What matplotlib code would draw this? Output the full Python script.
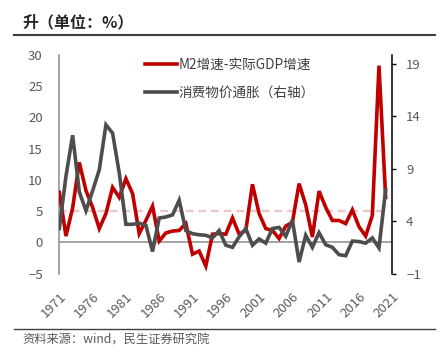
import matplotlib
matplotlib.use("Agg")
import matplotlib.pyplot as plt
from matplotlib.transforms import ScaledTranslation

plt.rcParams['font.family'] = ['Noto Sans CJK SC', 'DejaVu Sans']

# years shown on the category axis
tick_years = [1971, 1976, 1981, 1986, 1991, 1996, 2001, 2006, 2011, 2016, 2021]

# M2 growth minus real GDP growth (left axis, %)
m2_gap = [8.0, 1.0, 5.5, 12.8, 8.3, 5.6, 2.2, 4.6, 8.8, 7.2,
          10.2, 7.8, 1.4, 3.5, 5.8, 0.2, 1.5, 1.8, 1.9, 3.0,
          -1.9, -1.4, -3.8, 1.3, 1.4, 1.3, 3.9, 1.3, 1.9, 9.3,
          4.6, 2.2, 1.9, 0.6, 2.6, 3.2, 9.4, 6.0, 0.85, 8.2,
          5.6, 3.5, 3.5, 3.0, 5.2, 2.5, 1.0, 4.3, 28.3, 7.2]

# CPI inflation (right axis, %)
cpi = [3.3, 8.3, 12.2, 6.8, 5.0, 6.9, 8.9, 13.2, 12.4, 8.6,
       3.7, 3.7, 3.8, 3.6, 1.1, 4.3, 4.4, 4.6, 6.0, 3.1,
       2.8, 2.7, 2.65, 2.4, 3.1, 1.7, 1.5, 2.5, 3.3, 1.7,
       2.3, 1.9, 3.3, 3.4, 2.55, 4.1, 0.1, 2.65, 1.5, 2.9,
       1.75, 1.5, 0.8, 0.7, 2.1, 2.05, 1.9, 2.4, 1.45, 7.0]

ref_level = 5

idx = list(range(len(m2_gap)))
tick_pos = [y - tick_years[0] for y in tick_years]

fig = plt.figure(figsize=(4.4, 3.55), dpi=100)
ax = fig.add_axes([0.1348, 0.2295, 0.7568, 0.6155])
ax2 = ax.twinx()

red = '#C00000'
grey = '#4D4D4D'
txt = '#595959'

ax.hlines(ref_level, 0, len(idx) - 1, colors='#EEC4C4', linestyles=(0, (3.5, 2.2)), lw=1.6, zorder=1)
ax.axhline(0, color='#8C8C8C', lw=1.1, zorder=1)
l1, = ax.plot(idx, m2_gap, color=red, lw=2.6, zorder=3, solid_joinstyle='miter')
l2, = ax2.plot(idx, cpi, color=grey, lw=2.6, zorder=3, solid_joinstyle='miter')

ax.set_xlim(0, 50)
ax.set_ylim(-5, 30)
ax.set_yticks([-5, 0, 5, 10, 15, 20, 25, 30])
ax2.set_ylim(-1, 19.86)
ax2.set_yticks([-1, 4, 9, 14, 19])

ax.set_xticks(tick_pos)
ax.set_xticklabels([str(y) for y in tick_years], rotation=45, ha='right', va='top',
                   rotation_mode='anchor', fontsize=9.5, color=txt)
shift = ScaledTranslation(1 / 100, 0, fig.dpi_scale_trans)
for lab in ax.get_xticklabels():
    lab.set_transform(lab.get_transform() + shift)
ax.tick_params(axis='x', length=0, pad=12)
ax.tick_params(axis='y', length=0, pad=12, labelsize=9.5, labelcolor=txt)
ax2.tick_params(axis='y', length=3, width=1, color='black', pad=7, labelsize=9.5, labelcolor=txt)

for s in ['top', 'bottom', 'right']:
    ax.spines[s].set_visible(False)
for s in ['top', 'bottom', 'left']:
    ax2.spines[s].set_visible(False)
ax.spines['left'].set_color('#8C8C8C')
ax.spines['left'].set_linewidth(1.1)
ax2.spines['right'].set_color('black')
ax2.spines['right'].set_linewidth(1.1)

ax2.legend([l1, l2], ['M2增速-实际GDP增速', '消费物价通胀（右轴）'],
           loc='upper left', bbox_to_anchor=(0.22, 1.045), frameon=False,
           fontsize=9.8, handlelength=2.35, labelspacing=1.05, handletextpad=0.15,
           labelcolor='#404040')

fig.text(0.05, 0.938, '升（单位：%）', fontsize=11.5, fontweight='bold', color='#262626', va='center')
fig.add_artist(plt.Line2D([0.032, 0.988], [0.901, 0.901], color='#404040', lw=1.5))
fig.add_artist(plt.Line2D([0.032, 0.988], [0.073, 0.073], color='#404040', lw=1.0))
fig.text(0.05, 0.042, '资料来源：wind，民生证券研究院', fontsize=8.8, color=txt, va='center')

fig.savefig('out.png', dpi=100)
